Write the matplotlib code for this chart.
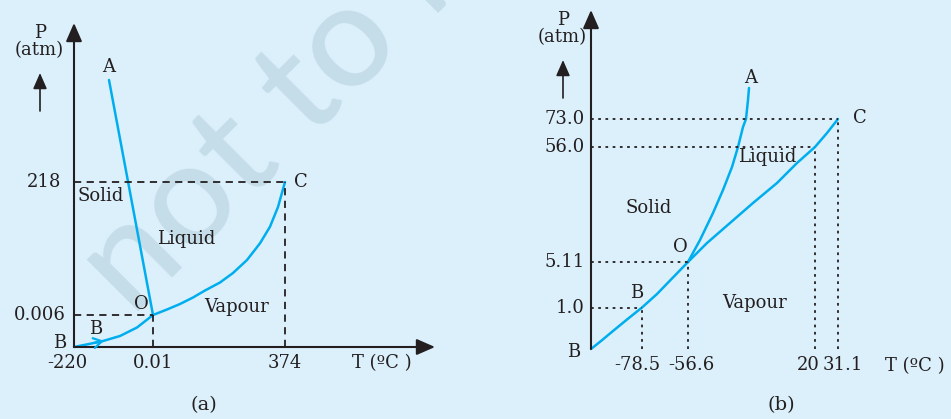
#!/usr/bin/env python3
import matplotlib
matplotlib.use("Agg")
import matplotlib.pyplot as plt
import numpy as np

W, H = 951, 419
bg = "#dcf0fb"
cyan = "#00aeef"
ink = "#231f20"

plt.rcParams['font.family'] = ['DejaVu Serif']

# ---- (a) water : schematic positions (px from the axis origin) ----
a_xticks = [0, 79, 211]
a_xlabels = ["-220", "0.01", "374"]
a_yticks = [32, 165]
a_ylabels = ["0.006", "218"]

a_boc_x = [0, 15, 29, 46, 63, 79, 93, 106, 119, 131, 146, 159, 173, 186, 196, 204, 211]
a_boc_y = [0, 3, 6, 11, 19.5, 32, 37.5, 43, 49.5, 56.5, 64.5, 74, 87, 103.7, 120.3, 140, 165]
a_oa_x = [79, 35]
a_oa_y = [32, 267]

# ---- (b) carbon dioxide ----
b_xticks = [51, 97, 224, 247]
b_xlabels = ["-78.5", "-56.6", "20", "31.1"]
b_xlabel_pos = [46, 100, 217, 252]
b_yticks = [41, 87, 202, 230]
b_ylabels = ["1.0", "5.11", "56.0", "73.0"]

b_bo_x = [0, 10, 22, 36, 51, 66, 81, 97]
b_bo_y = [0, 8, 18, 29.5, 41.5, 55, 70.5, 87]
b_oc_x = [97, 116, 139, 162, 186, 206, 224, 236, 247]
b_oc_y = [87, 106, 126, 146, 166, 186, 202, 216, 230]
b_oa_x = [97, 109, 122, 132, 141, 147, 152, 155, 157, 158]
b_oa_y = [87, 109, 136, 159, 182, 202, 222, 230, 249, 261]

fig = plt.figure(figsize=(W / 100, H / 100), dpi=100)
fig.patch.set_facecolor(bg)

# watermark, behind everything
fig.text(132 / W, 1 - 318 / H, "not to be republished", rotation=45,
         rotation_mode="anchor", fontsize=104, family="Lato", weight="medium",
         color="#c5dde9", ha="left", va="baseline", zorder=-5)


def panel(left, width, ox, oy):
    ax = fig.add_axes([left / W, 0, width / W, 1])
    ax.set_xlim(left - ox, left + width - ox)
    ax.set_ylim(oy - H, oy)
    ax.set_axis_off()
    ax.patch.set_alpha(0)
    return ax


def arrow(ax, x0, y0, x1, y1, lw=1.5, scale=14):
    ax.annotate("", xy=(x1, y1), xytext=(x0, y0),
                arrowprops=dict(arrowstyle="-|>,head_length=0.8,head_width=0.35",
                                color=ink, lw=lw, shrinkA=0, shrinkB=0,
                                mutation_scale=scale))


def axes_frame(ax, ytop, xend, px):
    arrow(ax, 0, 0, 0, ytop)
    arrow(ax, 0, 0, xend, 0)
    ax.text(px, ytop - 10, "P", fontsize=13, color=ink, ha="center", va="center")
    ax.text(px - 1, ytop - 27, "(atm)", fontsize=13, color=ink, ha="center", va="center")
    arrow(ax, px, ytop - 88, px, ytop - 50, lw=1.2, scale=12)


txt = dict(fontsize=13, color=ink, va="center")
curve = dict(color=cyan, lw=1.8, solid_capstyle="round", solid_joinstyle="round")

# ---------------- (a) ----------------
ax = panel(0, 475, 74, 347)
axes_frame(ax, 324, 361, -34)
ax.plot(a_boc_x, a_boc_y, **curve)
ax.plot(a_oa_x, a_oa_y, **curve)
ax.annotate("", xy=(30, 6.2), xytext=(20, 4),
            arrowprops=dict(arrowstyle="->,head_length=0.5,head_width=0.3",
                            color=cyan, lw=1.6, shrinkA=0, shrinkB=0,
                            mutation_scale=12))
dash = dict(color=ink, lw=1.3, linestyle=(0, (4, 3)))
ax.plot([0, a_xticks[2]], [a_yticks[1]] * 2, **dash)
ax.plot([a_xticks[2]] * 2, [0, a_yticks[1]], **dash)
ax.plot([0, a_xticks[1]], [a_yticks[0]] * 2, **dash)
ax.plot([a_xticks[1]] * 2, [0, a_yticks[0]], **dash)
ax.text(-13, a_yticks[1], a_ylabels[1], ha="right", **txt)
ax.text(-8, a_yticks[0], a_ylabels[0], ha="right", **txt)
ax.text(-7, -16, a_xlabels[0], ha="center", **txt)
for x, s in zip(a_xticks[1:], a_xlabels[1:]):
    ax.text(x, -16, s, ha="center", **txt)
ax.text(308, -16, "T (ºC )", ha="center", **txt)
ax.text(35, 280, "A", ha="center", **txt)
ax.text(220, 165, "C", ha="left", **txt)
ax.text(67, 43, "O", ha="center", **txt)
ax.text(22, 18, "B", ha="center", **txt)
ax.text(-14, 4, "B", ha="center", **txt)
ax.text(27, 151, "Solid", ha="center", **txt)
ax.text(112, 108, "Liquid", ha="center", **txt)
ax.text(163, 40, "Vapour", ha="center", **txt)
ax.text(130, -58, "(a)", ha="center", fontsize=14, color=ink, va="center")

# ---------------- (b) ----------------
ax = panel(475, 476, 591, 349)
axes_frame(ax, 339, 362, -28)
ax.plot(b_bo_x, b_bo_y, **curve)
ax.plot(b_oc_x, b_oc_y, **curve)
ax.plot(b_oa_x, b_oa_y, **curve)
dot = dict(color=ink, lw=1.3, linestyle=(0, (1.5, 2.5)))
for x, y in zip(b_xticks, b_yticks):
    ax.plot([0, x], [y, y], **dot)
    ax.plot([x, x], [0, y], **dot)
for y, s in zip(b_yticks, b_ylabels):
    ax.text(-6, y, s, ha="right", **txt)
for x, s in zip(b_xlabel_pos, b_xlabels):
    ax.text(x, -16, s, ha="center", **txt)
ax.text(324, -17, "T (ºC )", ha="center", **txt)
ax.text(-17, -3, "B", ha="center", **txt)
ax.text(160, 271, "A", ha="center", **txt)
ax.text(262, 231, "C", ha="left", **txt)
ax.text(89, 102, "O", ha="center", **txt)
ax.text(46, 56, "B", ha="center", **txt)
ax.text(58, 141, "Solid", ha="center", **txt)
ax.text(176, 192, "Liquid", ha="center", **txt)
ax.text(164, 46, "Vapour", ha="center", **txt)
ax.text(190, -56, "(b)", ha="center", fontsize=14, color=ink, va="center")

fig.savefig("out.png", dpi=100, facecolor=bg)
